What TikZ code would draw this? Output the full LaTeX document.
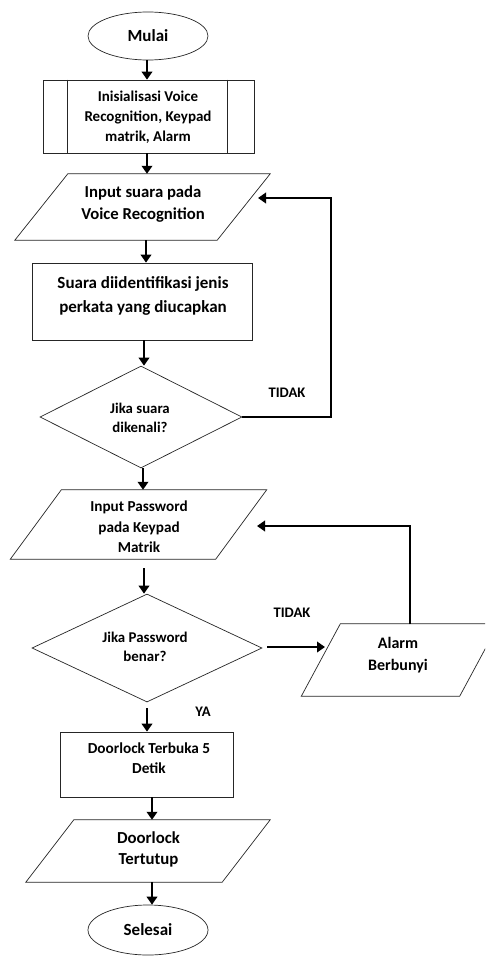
\documentclass[tikz,border=0pt]{standalone}
\usepackage{fontspec}
\setmainfont{Carlito}
\usetikzlibrary{shapes.geometric,arrows.meta}
\newcommand\fs[2]{\bfseries\fontsize{#1}{#2}\selectfont}
\begin{document}
\begin{tikzpicture}[x=1pt,y=-1pt,
  shp/.style={draw=black!85, line width=0.7pt},
  term/.style={shp, ellipse, minimum width=120pt, minimum height=48pt, inner sep=0pt, font=\fs{17}{20}},
  box/.style={shp, rectangle, inner sep=0pt},
  frame/.style={rectangle, inner sep=0pt},
  dec/.style={shp, diamond, inner sep=0pt},
  txt/.style={align=center, inner sep=0pt},
  lbl/.style={inner sep=0pt, font=\fs{14.6}{16}},
  arr/.style={line width=2.8pt, -{Triangle[width=10.5pt,length=8pt]}},
  loop/.style={line width=2.8pt, -{Triangle[width=10.5pt,length=8pt]}}
]
\useasboundingbox (0,0) rectangle (485,956);
\clip (0,0) rectangle (485,956);
\fill[white] (0,0) rectangle (485,956);

% start
\node[term] (start) at (148,36) {Mulai};

% init (predefined process)
\node[box, minimum width=211pt, minimum height=73pt] (init) at (148.5,116.5) {};
\draw[shp] ([xshift=25pt]init.north west) -- ([xshift=25pt]init.south west);
\draw[shp] ([xshift=-27pt]init.north east) -- ([xshift=-27pt]init.south east);
\node[txt, font=\fs{15}{20}] (initt) at (148,117) {Inisialisasi Voice\\Recognition, Keypad\\matrik, Alarm};

% input suara
\node[frame, minimum width=202pt, minimum height=66pt] (in1) at (142.5,207) {};
\draw[shp] ([xshift=26.5pt]in1.north west) -- ([xshift=26.5pt]in1.north east) -- ([xshift=-26.5pt]in1.south east) -- ([xshift=-26.5pt]in1.south west) -- cycle;
\node[txt, font=\fs{16.7}{22}] (in1t) at (143,204) {Input suara pada\\Voice Recognition};

% proses suara
\node[box, minimum width=220pt, minimum height=77pt] (proc1) at (142,301.5) {};
\node[txt, font=\fs{17}{24}] (proc1t) at (143,296) {Suara diidentifikasi jenis\\perkata yang diucapkan};

% decision 1
\node[dec, minimum width=202pt, minimum height=102pt] (d1) at (141,417) {};
\node[txt, font=\fs{14.8}{19}] (d1t) at (140,418) {Jika suara\\dikenali?};
\node[lbl] (tidak1) at (287,393) {TIDAK};

% input password
\node[frame, minimum width=205pt, minimum height=69pt] (in2) at (138.5,524.5) {};
\draw[shp] ([xshift=25.5pt]in2.north west) -- ([xshift=25.5pt]in2.north east) -- ([xshift=-25.5pt]in2.south east) -- ([xshift=-25.5pt]in2.south west) -- cycle;
\node[txt, font=\fs{15.2}{20.5}] (in2t) at (139,527) {Input Password\\pada Keypad\\Matrik};

% decision 2
\node[dec, minimum width=230pt, minimum height=108pt] (d2) at (147,648) {};
\node[txt, font=\fs{14.9}{18.5}] (d2t) at (145,647) {Jika Password\\benar?};
\node[lbl] (tidak2) at (292,613) {TIDAK};
\node[lbl] (ya) at (203,712) {YA};

% alarm
\node[frame, minimum width=158pt, minimum height=72pt] (alarm) at (400,660) {};
\draw[shp] ([xshift=19.5pt]alarm.north west) -- ([xshift=19.5pt]alarm.north east) -- ([xshift=-19.5pt]alarm.south east) -- ([xshift=-19.5pt]alarm.south west) -- cycle;
\node[txt, font=\fs{16}{22}] (alarmt) at (398,655) {Alarm\\Berbunyi};

% doorlock terbuka
\node[box, minimum width=173pt, minimum height=65pt] (proc2) at (146.5,764.5) {};
\node[txt, font=\fs{15.3}{20}] (proc2t) at (149,758) {Doorlock Terbuka 5\\Detik};

% doorlock tertutup
\node[frame, minimum width=196pt, minimum height=62pt] (out) at (148,851) {};
\draw[shp] ([xshift=24pt]out.north west) -- ([xshift=24pt]out.north east) -- ([xshift=-24pt]out.south east) -- ([xshift=-24pt]out.south west) -- cycle;
\node[txt, font=\fs{16.8}{21}] (outt) at (148.5,849) {Doorlock\\Tertutup};

% end
\node[term, minimum height=50pt] (end) at (148,930) {Selesai};

% connectors
\draw[arr] ([xshift=-1pt]start.south) -- ([xshift=-1pt]start.south |- init.north);
\draw[arr] ([xshift=-1.5pt]init.south) -- ([xshift=-1.5pt]init.south |- in1.north);
\draw[arr] ([xshift=3.5pt]in1.south) -- ([xshift=3.5pt]in1.south |- proc1.north);
\draw[arr] ([xshift=2pt]proc1.south) -- ([xshift=2pt]proc1.south |- d1.north);
\draw[arr] ([xshift=2pt]d1.south) -- ([xshift=2pt]d1.south |- in2.north);
\draw[arr] ([xshift=5.5pt,yshift=-9pt]in2.south) -- ([xshift=5.5pt]in2.south |- d2.north);
\draw[arr] ([yshift=-6pt]d2.south) -- (d2.south |- proc2.north);
\draw[arr] ([xshift=5.5pt]proc2.south) -- ([xshift=5.5pt]proc2.south |- out.north);
\draw[arr] ([xshift=4pt]out.south) -- ([xshift=4pt]out.south |- end.north);

% loop 1
\coordinate (l1a) at (331,417);
\coordinate (l1b) at (331,198);
\coordinate (l1c) at (258,198);
\draw[loop] (d1.east) -- (l1a) -- (l1b) -- (l1c);

% decision 2 -> alarm
\coordinate (d2r) at (267,647);
\coordinate (alin) at (325,647);
\draw[arr] (d2r) -- (alin);

% loop 2
\coordinate (l2a) at (410,624);
\coordinate (l2b) at (410,526);
\coordinate (l2c) at (257,526);
\draw[loop] (l2a) -- (l2b) -- (l2c);
\end{tikzpicture}
\end{document}
